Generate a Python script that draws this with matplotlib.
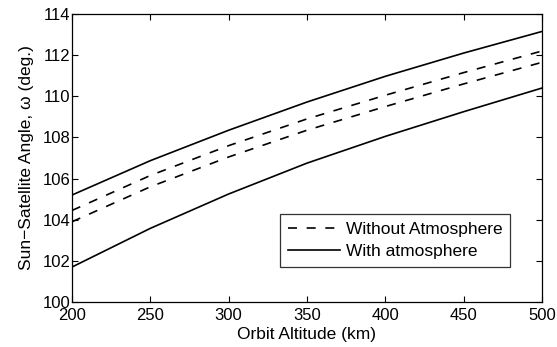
import matplotlib
matplotlib.use("Agg")
import matplotlib.pyplot as plt

plt.rcParams['font.family'] = ['Liberation Sans', 'DejaVu Sans']

altitude = [200, 250, 300, 350, 400, 450, 500]
with_atm_upper = [105.2, 106.87, 108.35, 109.72, 110.97, 112.1, 113.15]
without_atm_upper = [104.45, 106.15, 107.6, 108.9, 110.05, 111.15, 112.2]
without_atm_lower = [103.9, 105.6, 107.05, 108.35, 109.5, 110.6, 111.65]
with_atm_lower = [101.7, 103.58, 105.25, 106.75, 108.05, 109.25, 110.4]

x_ticks = [200, 250, 300, 350, 400, 450, 500]
y_ticks = [100, 102, 104, 106, 108, 110, 112, 114]

fig = plt.figure(figsize=(5.57, 3.47), dpi=100)
ax = fig.add_axes([0.1293, 0.1297, 0.8437, 0.830])

dash = (0, (5.4, 5.8))
ax.plot(altitude, without_atm_upper, color='black', lw=1.2, linestyle=dash,
        label='Without Atmosphere')
ax.plot(altitude, without_atm_lower, color='black', lw=1.2, linestyle=dash)
ax.plot(altitude, with_atm_upper, color='black', lw=1.2, label='With atmosphere')
ax.plot(altitude, with_atm_lower, color='black', lw=1.2)

ax.set_xlim(200, 500)
ax.set_ylim(100, 114)
ax.set_xticks(x_ticks)
ax.set_yticks(y_ticks)
ax.tick_params(direction='in', top=True, right=True, labelsize=12, length=4,
               width=0.8)
ax.tick_params(axis='x', pad=4.5)
ax.tick_params(axis='y', pad=1)
for s in ax.spines.values():
    s.set_linewidth(0.9)

ax.set_xlabel('Orbit Altitude (km)', fontsize=12.5, labelpad=3)
ax.set_ylabel('Sun\u2212Satellite Angle, \u03c9 (deg.)', fontsize=12.5, labelpad=6)

leg = ax.legend(loc='lower right', bbox_to_anchor=(0.932, 0.1215), fontsize=12.5,
                frameon=True, fancybox=False, edgecolor='black',
                handlelength=3.0, borderpad=0.45, labelspacing=0.42,
                handletextpad=0.3, borderaxespad=0)
leg.get_frame().set_linewidth(0.9)

fig.savefig('out.png', dpi=100)
